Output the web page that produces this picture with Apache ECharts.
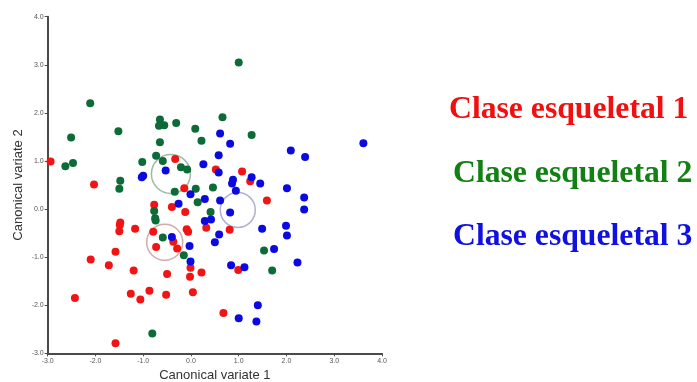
<!DOCTYPE html>
<html>
<head>
<meta charset="utf-8">
<script src="https://cdn.jsdelivr.net/npm/echarts@6/dist/echarts.min.js"></script>
<style>html,body{margin:0;padding:0;background:#fff;}#c{width:697px;height:382px;}</style>
</head>
<body>
<div id="c"></div>
<script>
var class1 = [[-2.94,0.99],[-2.03,0.51],[-0.33,1.04],[-0.14,0.43],[-0.77,0.09],[-0.40,0.04],[-0.12,-0.06],
  [-1.48,-0.28],[-1.49,-0.33],[-1.50,-0.46],[-1.17,-0.41],[-0.79,-0.47],[-0.37,-0.68],[-0.73,-0.79],[-0.29,-0.82],
  [-0.09,-0.42],[-0.06,-0.47],[-1.58,-0.89],[-2.10,-1.05],[-1.72,-1.17],[-1.20,-1.28],[-0.50,-1.35],[-0.01,-1.22],
  [-0.02,-1.41],[0.22,-1.32],[-2.43,-1.85],[-1.26,-1.76],[-0.87,-1.70],[-1.06,-1.88],[-0.52,-1.78],[0.04,-1.73],
  [-1.58,-2.79],[0.52,0.82],[1.07,0.78],[1.24,0.58],[1.59,0.18],[0.32,-0.39],[0.81,-0.43],[0.99,-1.27],[0.68,-2.16]];
var class2 = [[-2.11,2.20],[-2.51,1.49],[-1.52,1.62],[-2.63,0.89],[-2.47,0.96],[-0.65,1.86],[-0.67,1.73],[-0.56,1.74],
  [-0.31,1.79],[-0.65,1.39],[0.09,1.67],[-0.73,1.11],[-0.59,1.00],[-1.02,0.98],[-0.21,0.87],[-0.08,0.82],[-1.48,0.59],
  [-1.50,0.42],[-0.34,0.36],[0.10,0.42],[0.14,0.14],[-0.77,-0.04],[-0.75,-0.19],[-0.74,-0.24],[-0.59,-0.59],[-0.15,-0.96],
  [-0.81,-2.59],[1.00,3.05],[0.66,1.91],[0.22,1.42],[1.27,1.54],[0.46,0.45],[0.41,-0.06],[1.53,-0.86],[1.70,-1.28]];
var class3 = [[-1.00,0.69],[-1.03,0.66],[-0.53,0.80],[-0.01,0.31],[-0.26,0.11],[-0.40,-0.58],[-0.03,-0.77],[-0.01,-1.09],
  [0.61,1.57],[0.82,1.36],[3.61,1.37],[2.09,1.22],[2.39,1.08],[0.58,1.12],[0.26,0.93],[0.58,0.76],[1.27,0.66],[0.88,0.61],
  [0.86,0.53],[1.45,0.53],[0.94,0.38],[2.01,0.43],[2.37,0.24],[2.37,-0.01],[0.29,0.21],[0.61,0.18],[0.82,-0.07],[0.29,-0.25],
  [0.42,-0.22],[0.59,-0.53],[0.50,-0.69],[1.49,-0.41],[1.99,-0.35],[2.01,-0.55],[1.74,-0.83],[2.23,-1.11],[0.84,-1.17],
  [1.12,-1.21],[1.40,-2.00],[1.00,-2.27],[1.37,-2.34]];
var centroidX = [-0.55, -0.42, 0.98];
var centroidY = [-0.69, 0.73, -0.02];
var classNames = ['Clase esqueletal 1', 'Clase esqueletal 2', 'Clase esqueletal 3'];
var xAxisName = 'Canonical variate 1';
var yAxisName = 'Canonical variate 2';

var dotColors = ['#f01414', '#0d6b37', '#0a0ae0'];
var textColors = ['#f01010', '#138013', '#1010e0'];
var ringColors = ['#c99595', '#86aa92', '#9c9cc8'];
var ringSizes = [36, 39, 35];
var legendY = [110, 174, 237];
var legendX = [449, 453, 453];

var chart = echarts.init(document.getElementById('c'));
var series = [];
for (var i = 0; i < 3; i++) {
  series.push({
    type: 'scatter', z: 1,
    data: [[centroidX[i], centroidY[i]]],
    symbol: 'circle', symbolSize: ringSizes[i], silent: true,
    itemStyle: { color: 'rgba(0,0,0,0)', borderColor: ringColors[i], borderWidth: 1.5 }
  });
}
[class1, class2, class3].forEach(function (d, i) {
  series.push({
    type: 'scatter', z: 3, data: d, symbolSize: 8,
    itemStyle: { color: dotColors[i], opacity: 1 }
  });
});
var axisCommon = {
  type: 'value', min: -3, max: 4, interval: 1,
  splitLine: { show: false },
  axisLine: { show: true, onZero: false, lineStyle: { color: '#4a4a4a', width: 2 } },
  axisTick: { show: true, length: 3, lineStyle: { color: '#4a4a4a' } },
  axisLabel: { fontSize: 7, color: '#555', fontFamily: 'Liberation Sans', margin: 4,
    formatter: function (v) { return v.toFixed(1); } },
  nameLocation: 'middle',
  nameTextStyle: { fontSize: 13, color: '#333', fontFamily: 'Liberation Sans' }
};
chart.setOption({
  animation: false,
  grid: { left: 47.7, right: 315, top: 16.7, bottom: 28.7, containLabel: false, outerBoundsMode: 'none' },
  xAxis: Object.assign({}, axisCommon, { name: xAxisName, nameGap: 16 }),
  yAxis: Object.assign({}, axisCommon, { name: yAxisName, nameGap: 23 }),
  series: series,
  graphic: classNames.map(function (t, i) {
    return { type: 'text', x: legendX[i], y: legendY[i],
      style: { text: t, fill: textColors[i],
        font: 'bold 31.7px "Liberation Serif"', verticalAlign: 'middle' } };
  })
});
</script>
</body>
</html>
